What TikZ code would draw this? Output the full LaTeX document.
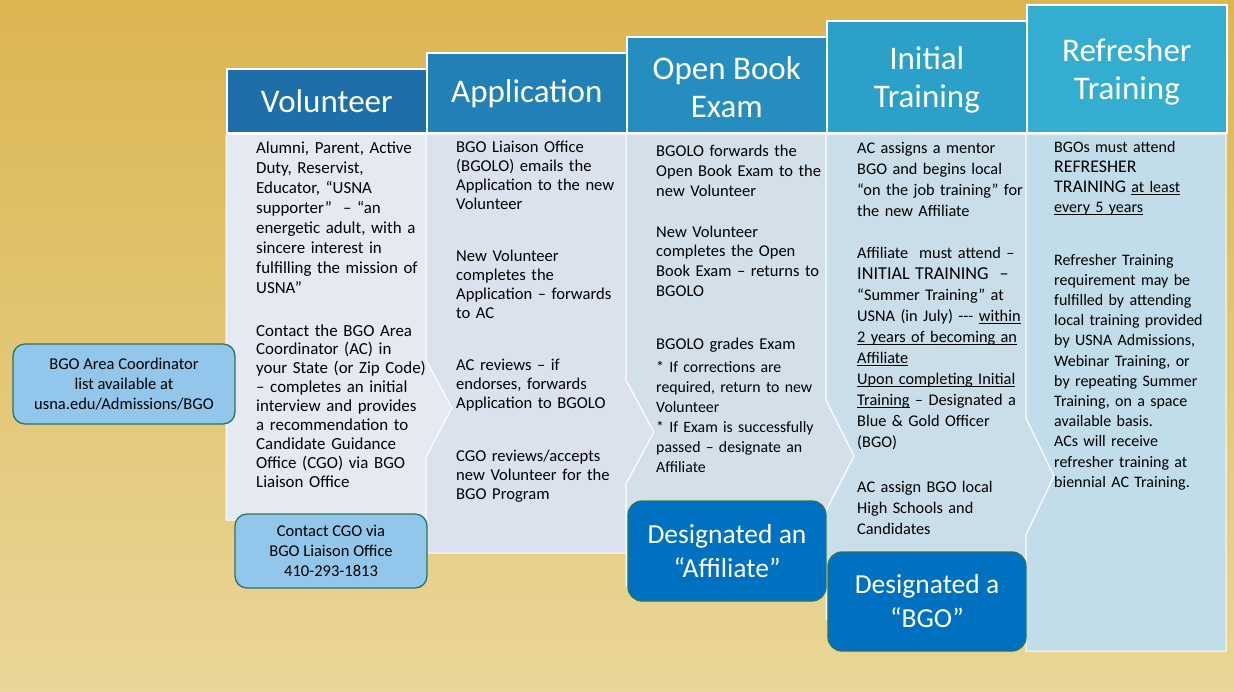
\documentclass[tikz,border=0pt]{standalone}
\usepackage{fontspec}
\setmainfont{Carlito}
\definecolor{bgtop}{RGB}{219,181,80}
\definecolor{bgbot}{RGB}{234,214,152}
\definecolor{hA}{RGB}{30,111,168}
\definecolor{hB}{RGB}{33,128,182}
\definecolor{hC}{RGB}{37,142,191}
\definecolor{hD}{RGB}{43,160,200}
\definecolor{hE}{RGB}{52,174,208}
\definecolor{bA}{RGB}{229,233,242}
\definecolor{bB}{RGB}{219,226,238}
\definecolor{bC}{RGB}{211,224,234}
\definecolor{bD}{RGB}{202,222,233}
\definecolor{bE}{RGB}{193,221,233}
\definecolor{lightbox}{RGB}{147,198,235}
\definecolor{darkbox}{RGB}{0,112,192}
\definecolor{boxedge}{RGB}{40,118,98}
\newcommand\fsz[2]{\fontsize{#1}{#2}\selectfont}
\newcommand\myul[1]{\leavevmode\setbox0\hbox{#1}\rlap{\rule[-2.4pt]{\wd0}{0.9pt}}\box0\relax}
\tikzset{
  hdr/.style={draw=white, line width=1.6pt, inner sep=0pt,
    minimum width=200pt, anchor=south west},
  htxt/.style={text=white, align=center, inner sep=0pt, font=\fsz{33}{38}},
  bodyshape/.style={draw=white, line width=1pt},
  bodytxt/.style={anchor=base west, align=left, text width=200pt, inner sep=0pt, text=black},
  lbox/.style={draw=boxedge, fill=lightbox, rounded corners=12pt, line width=1.3pt,
    align=center, inner sep=0pt, text=black, font=\fsz{16.5}{20}},
  dbox/.style={draw=boxedge, fill=darkbox, rounded corners=14pt, line width=1.3pt,
    align=center, inner sep=0pt, text=white, font=\fsz{27.5}{34}}
}
\begin{document}
\begin{tikzpicture}[x=1pt,y=-1pt]
\useasboundingbox (0,0) rectangle (1234,691);
\shade[top color=bgtop, bottom color=bgbot] (0,0) rectangle (1234,691);

% bodies
\path[bodyshape, fill=bA] (226,134) -- (426,134) -- (426,360) -- (452,408) -- (426,457)
  -- (426,520) -- (226,520) -- cycle;
\path[bodyshape, fill=bB] (426,134) -- (626,134) -- (626,380) -- (654,432) -- (626,484)
  -- (626,553) -- (426,553) -- (426,457) -- (452,408) -- (426,360) -- cycle;
\path[bodyshape, fill=bC] (626,134) -- (826,134) -- (826,400) -- (854,456) -- (826,511)
  -- (826,586) -- (626,586) -- (626,484) -- (654,432) -- (626,380) -- cycle;
\path[bodyshape, fill=bD] (826,134) -- (1026,134) -- (1026,418) -- (1054,476) -- (1026,535)
  -- (1026,619) -- (826,619) -- (826,511) -- (854,456) -- (826,400) -- cycle;
\path[bodyshape, fill=bE] (1026,134) -- (1226,134) -- (1226,651) -- (1026,651)
  -- (1026,535) -- (1054,476) -- (1026,418) -- cycle;

% headers
\node[hdr, fill=hA, minimum height=64pt] (hVol) at (226,134) {};
\node[hdr, fill=hB, minimum height=80pt] (hApp) at (426,134) {};
\node[hdr, fill=hC, minimum height=96pt] (hExam) at (626,134) {};
\node[hdr, fill=hD, minimum height=112pt] (hInit) at (826,134) {};
\node[hdr, fill=hE, minimum height=128pt] (hRef) at (1026,134) {};
\node[htxt] (tVol) at (hVol.center) {Volunteer};
\node[htxt] (tApp) at (hApp.center) {Application};
\node[htxt] (tExam) at ([yshift=-2pt]hExam.center) {Open Book\\Exam};
\node[htxt] (tInit) at ([yshift=-3pt]hInit.center) {Initial\\Training};
\node[htxt] (tRef) at ([yshift=-3pt]hRef.center) {Refresher\\Training};

% column 1 text
\node[bodytxt, font=\fsz{16.9}{20.1}] (v1) at (256,153) {Alumni, Parent, Active\\Duty, Reservist,\\Educator, “USNA\\supporter”~~– “an\\energetic adult, with a\\sincere interest in\\fulfilling the mission of\\USNA”};
\node[bodytxt, font=\fsz{16.9}{18.9}] (v2) at (256,336) {Contact the BGO Area\\Coordinator (AC) in\\your State (or Zip Code)\\– completes an initial\\interview and provides\\a recommendation to\\Candidate Guidance\\Office (CGO) via BGO\\Liaison Office};

% column 2 text
\node[bodytxt, font=\fsz{16.6}{19}] (a1) at (456,152) {BGO Liaison Office\\(BGOLO) emails the\\Application to the new\\Volunteer};
\node[bodytxt, font=\fsz{16.6}{19}] (a2) at (456,261) {New Volunteer\\completes the\\Application – forwards\\to AC};
\node[bodytxt, font=\fsz{16.6}{19}] (a3) at (456,370) {AC reviews – if\\endorses, forwards\\Application to BGOLO};
\node[bodytxt, font=\fsz{16.6}{19}] (a4) at (456,461) {CGO reviews/accepts\\new Volunteer for the\\BGO Program};

% column 3 text
\node[bodytxt, font=\fsz{16.5}{20.3}] (e1) at (656,156) {BGOLO forwards the\\Open Book Exam to the\\new Volunteer};
\node[bodytxt, font=\fsz{16.5}{19.8}] (e2) at (656,237) {New Volunteer\\completes the Open\\Book Exam – returns to\\BGOLO};
\node[bodytxt, font=\fsz{16.5}{20}] (e3) at (656,349) {BGOLO grades Exam};
\node[bodytxt, font=\fsz{15.8}{20}] (e4) at (656,372) {* If corrections are\\required, return to new\\Volunteer\\{}* If Exam is successfully\\passed – designate an\\Affiliate};

% column 4 text
\node[bodytxt, font=\fsz{16.3}{21}] (i1) at (857,153) {AC assigns a mentor\\BGO and begins local\\“on the job training” for\\the new Affiliate};
\node[bodytxt, font=\fsz{16.3}{21.1}] (i2) at (857,258) {Affiliate~ must attend –\\{\fsz{18.2}{21}INITIAL TRAINING~ –}\\“Summer Training” at\\USNA (in July) -{}-{}- \myul{within}\\\myul{2 years of becoming an}\\\myul{Affiliate}\\\myul{Upon completing Initial}\\\myul{Training} – Designated a\\Blue \& Gold Officer\\(BGO)};
\node[bodytxt, font=\fsz{16.3}{21}] (i3) at (857,492) {AC assign BGO local\\High Schools and\\Candidates};

% column 5 text
\node[bodytxt, font=\fsz{16}{20}] (r1) at (1054,152) {BGOs must attend\\{\fsz{17.8}{20}REFRESHER}\\{\fsz{17.8}{20}TRAINING} \myul{at least}\\\myul{every 5 years}};
\node[bodytxt, font=\fsz{16}{20.2}] (r2) at (1054,265) {Refresher Training\\requirement may be\\fulfilled by attending\\local training provided\\by USNA Admissions,\\Webinar Training, or\\by repeating Summer\\Training, on a space\\available basis.\\ACs will receive\\refresher training at\\biennial AC Training.};

% rounded boxes
\node[lbox, minimum width=222pt, minimum height=80pt] (coord) at (124,384) {BGO Area Coordinator\\list available at\\usna.edu/Admissions/BGO};
\node[lbox, minimum width=192pt, minimum height=74pt] (cgo) at (331,551) {Contact CGO via\\BGO Liaison Office\\410-293-1813};
\node[dbox, minimum width=198pt, minimum height=100pt] (aff) at (727,551) {Designated an\\“Affiliate”};
\node[dbox, minimum width=198pt, minimum height=99pt] (bgo) at (927,601.5) {Designated a\\“BGO”};
\end{tikzpicture}
\end{document}
